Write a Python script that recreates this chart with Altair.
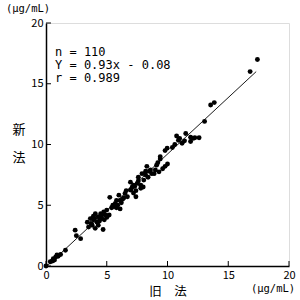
import altair as alt
import pandas as pd

old_method = [0.0, 0.35, 0.6, 0.7, 0.8, 0.9, 1.0, 0.6, 1.6, 2.4, 2.5, 2.85, 3.4, 3.5, 3.65, 3.8, 3.9, 4.05, 4.06, 4.2,
              4.3, 4.3, 4.5, 4.6, 4.75, 4.9, 5.0, 4.4, 4.0, 3.7, 4.7, 5.25, 5.6, 5.7, 5.9, 6.1, 6.1, 6.0, 5.5, 5.8,
              6.2, 6.5, 6.95, 7.2, 6.95, 7.2, 7.5, 7.1, 7.8, 8.0, 8.05, 8.2, 7.6, 7.9, 8.5, 8.7, 9.0, 8.3, 9.6, 10.0,
              9.4, 9.4, 9.8, 9.97, 10.75, 11.5, 10.9, 11.2, 11.9, 11.9, 12.25, 12.6, 13.05, 13.55, 13.85, 16.8, 17.4, 7.4, 6.7, 7.8,
              8.9, 9.3, 9.8, 5.2, 5.4, 6.3, 4.6, 3.9, 4.45, 4.8, 5.0, 6.6, 7.0, 7.3, 8.4, 8.6, 9.1, 9.2, 10.4, 11.0,
              11.4, 12.1, 1.2, 0.5, 5.8, 6.4, 7.6, 8.2, 10.6, 7.4]
new_method = [0.0, 0.35, 0.6, 0.5, 0.75, 0.9, 0.8, 0.45, 1.3, 2.95, 2.5, 2.25, 3.6, 3.2, 3.9, 3.35, 3.8, 3.1, 4.3, 3.6,
              4.05, 3.35, 4.3, 3.9, 4.45, 4.2, 4.6, 3.7, 3.9, 3.5, 3.0, 5.65, 4.9, 5.15, 5.0, 4.7, 5.4, 5.83, 5.0, 4.8,
              5.2, 5.97, 6.25, 6.0, 6.9, 6.65, 6.8, 6.5, 6.65, 6.5, 7.07, 7.5, 7.3, 7.6, 7.8, 7.6, 7.9, 8.2, 8.0, 8.4,
              9.0, 8.8, 9.5, 9.7, 10.7, 10.9, 10.35, 10.1, 10.25, 10.6, 10.55, 10.55, 11.9, 13.25, 13.45, 16.0, 17.0, 5.7, 5.7, 6.4,
              7.6, 7.75, 8.2, 4.2, 4.8, 5.5, 4.2, 4.1, 3.95, 3.8, 4.0, 6.2, 6.3, 6.55, 7.3, 7.9, 8.3, 8.5, 9.75, 10.5,
              10.3, 10.5, 0.95, 0.4, 5.4, 5.6, 7.0, 7.8, 10.0, 6.2]

fit_x = [0.1, 17.3]
fit_y = [0.01, 16.0]

tick_values = [0, 5, 10, 15, 20]
annotation_lines = ["n = 110", "Y = 0.93x - 0.08", "r = 0.989"]

FONT = "Noto Sans CJK JP"
MONO = "DejaVu Sans Mono"

pts = pd.DataFrame({"old": old_method, "new": new_method})
fit = pd.DataFrame({"old": fit_x, "new": fit_y})
ticks = pd.DataFrame({"v": tick_values})

xs = alt.Scale(domain=[0, 20], nice=False)
ys = alt.Scale(domain=[0, 20], nice=False)

x_axis = alt.Axis(values=tick_values, ticks=False, grid=False, title=None, labelFont=FONT,
                  labelFontSize=11, labelColor="black", domainColor="black", domainWidth=1.5,
                  labelPadding=3, labelFlush=False)
y_axis = alt.Axis(values=tick_values, ticks=False, grid=False, title=None, labelFont=FONT,
                  labelFontSize=11, labelColor="black", domainColor="black", domainWidth=1.5,
                  labelPadding=3)

points = alt.Chart(pts).mark_circle(size=24, color="black", opacity=1).encode(
    x=alt.X("old:Q", scale=xs, axis=x_axis),
    y=alt.Y("new:Q", scale=ys, axis=y_axis),
)

line = alt.Chart(fit).mark_line(color="black", strokeWidth=0.9).encode(
    x=alt.X("old:Q", scale=xs),
    y=alt.Y("new:Q", scale=ys),
)

yticks = alt.Chart(ticks).mark_rule(color="black", strokeWidth=1).encode(
    y=alt.Y("v:Q", scale=ys), x=alt.value(0), x2=alt.value(5)
)
xticks = alt.Chart(ticks).mark_rule(color="black", strokeWidth=1).encode(
    x=alt.X("v:Q", scale=xs), y=alt.value(243), y2=alt.value(238)
)

ann = alt.Chart(pd.DataFrame({"t": annotation_lines, "yy": [28.5, 41.5, 54.5]})).mark_text(
    font=MONO, fontSize=12, align="left", baseline="middle", color="black"
).encode(x=alt.value(9), y=alt.Y("yy:Q", scale=None), text="t:N")

def label(txt, x, y, size=12, font=FONT):
    return alt.Chart(pd.DataFrame({"t": [txt]})).mark_text(
        font=font, fontSize=size, align="center", baseline="middle", color="black"
    ).encode(x=alt.value(x), y=alt.value(y), text="t:N")

titles = (label("新", -27, 107, 13) + label("法", -27, 135, 13) + label("旧　法", 122, 269, 12.5)
          + label("(μg/mL)", -18, -14, 10.5, MONO) + label("(μg/mL)", 227, 266, 10.5, MONO))

chart = alt.layer(points, line, yticks, xticks, ann, titles).properties(
    width=243, height=243, autosize="none",
    padding={"left": 46, "top": 23, "right": 11, "bottom": 34},
).configure_view(stroke="black", strokeWidth=1.2).configure(background="white")

chart.save("out.html", embed_options={"renderer": "svg", "actions": False})
